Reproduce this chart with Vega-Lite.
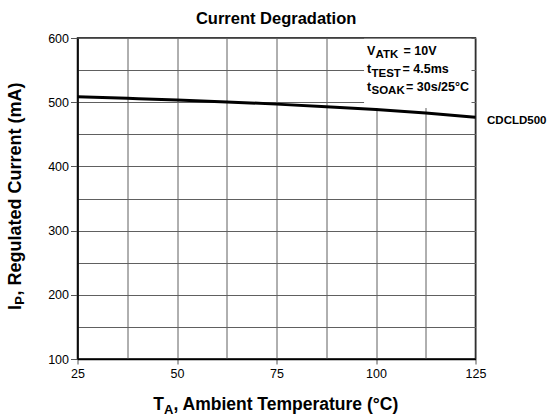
{
  "$schema": "https://vega.github.io/schema/vega-lite/v6.json",
  "autosize": "none",
  "width": 398,
  "height": 321,
  "padding": {"left": 77.5, "top": 38, "right": 71.5, "bottom": 58},
  "background": "white",
  "config": {
    "view": {"stroke": "#000", "strokeWidth": 1.5},
    "font": "Liberation Sans"
  },
  "encoding": {
    "x": {"type": "quantitative", "scale": {"domain": [25, 125], "nice": false, "zero": false},
      "axis": {"values": [25, 37.5, 50, 62.5, 75, 87.5, 100, 112.5, 125], "title": null, "grid": true,
        "gridColor": "#606060", "gridWidth": 1, "domainColor": "#000", "domainWidth": 1.5,
        "tickColor": "#555", "tickSize": 5,
        "tickOpacity": {"condition": {"test": "datum.value % 25 === 0", "value": 1}, "value": 0},
        "labelExpr": "datum.value % 25 === 0 ? datum.label : ''",
        "labelFont": "Liberation Sans", "labelFontSize": 12.5, "labelColor": "#000", "labelPadding": 3,
        "labelFlush": false, "labelOverlap": false}},
    "y": {"type": "quantitative", "scale": {"domain": [100, 600], "nice": false, "zero": false},
      "axis": {"values": [100, 150, 200, 250, 300, 350, 400, 450, 500, 550, 600],
        "title": null, "grid": true, "gridColor": "#606060", "gridWidth": 1, "domainColor": "#000", "domainWidth": 1.5,
        "tickColor": "#555", "tickSize": 7,
        "tickOpacity": {"condition": {"test": "datum.value % 100 === 0", "value": 1}, "value": 0},
        "labelExpr": "datum.value % 100 === 0 ? datum.label : ''",
        "labelFont": "Liberation Sans", "labelFontSize": 12.5, "labelColor": "#000", "labelPadding": 2,
        "labelFlush": false, "labelOverlap": false}}
  },
  "layer": [
    {
      "data": {"values": [{"x": 97, "x2": 124, "y": 599, "y2": 491}]},
      "mark": {"type": "rect", "fill": "white"},
      "encoding": {"x": {"field": "x", "type": "quantitative"}, "x2": {"field": "x2"}, "y": {"field": "y", "type": "quantitative"}, "y2": {"field": "y2"}}
    },
    {
      "data": {"values": [
        {"T": 25, "I": 508.5}, {"T": 37.5, "I": 506}, {"T": 50, "I": 503.5}, {"T": 62.5, "I": 500.5},
        {"T": 75, "I": 497}, {"T": 87.5, "I": 493}, {"T": 100, "I": 488.5}, {"T": 112.5, "I": 483}, {"T": 125, "I": 476.5}
      ]},
      "mark": {"type": "line", "color": "#000", "strokeWidth": 3, "interpolate": "monotone"},
      "encoding": {"x": {"field": "T", "type": "quantitative"}, "y": {"field": "I", "type": "quantitative"}}
    },
    {
      "data": {"values": [
        {"x": 97.74, "y": 573.5, "t": "V"},
        {"x": 106.9, "y": 573.5, "t": "= 10V"},
        {"x": 97.74, "y": 545.0, "t": "t"},
        {"x": 106.66, "y": 545.0, "t": "= 4.5ms"},
        {"x": 97.74, "y": 517.4, "t": "t"},
        {"x": 107.54, "y": 517.4, "t": "= 30s/25°C"}
      ]},
      "mark": {"type": "text", "font": "Liberation Sans", "fontWeight": "bold", "fontSize": 12.5, "align": "left", "baseline": "alphabetic", "color": "#000"},
      "encoding": {"x": {"field": "x", "type": "quantitative"}, "y": {"field": "y", "type": "quantitative"}, "text": {"field": "t"}}
    },
    {
      "data": {"values": [
        {"x": 99.87, "y": 568.1, "t": "ATK"},
        {"x": 98.87, "y": 539.7, "t": "TEST"},
        {"x": 98.87, "y": 512.0, "t": "SOAK"}
      ]},
      "mark": {"type": "text", "font": "Liberation Sans", "fontWeight": "bold", "fontSize": 11.5, "align": "left", "baseline": "alphabetic", "color": "#000"},
      "encoding": {"x": {"field": "x", "type": "quantitative"}, "y": {"field": "y", "type": "quantitative"}, "text": {"field": "t"}}
    },
    {
      "data": {"values": [{"x": 127.9, "y": 466, "t": "CDCLD500"}]},
      "mark": {"type": "text", "font": "Liberation Sans", "fontWeight": "bold", "fontSize": 11.5, "align": "left", "baseline": "alphabetic", "color": "#000"},
      "encoding": {"x": {"field": "x", "type": "quantitative"}, "y": {"field": "y", "type": "quantitative"}, "text": {"field": "t"}}
    },
    {
      "data": {"values": [{"x": 74.9, "y": 621.8, "t": "Current Degradation"}]},
      "mark": {"type": "text", "font": "Liberation Sans", "fontWeight": "bold", "fontSize": 16.5, "align": "center", "baseline": "alphabetic", "color": "#000"},
      "encoding": {"x": {"field": "x", "type": "quantitative"}, "y": {"field": "y", "type": "quantitative"}, "text": {"field": "t"}}
    },
    {
      "data": {"values": [
        {"x": 44.05, "y": 20.5, "t": "T"},
        {"x": 49.1, "y": 20.5, "t": ", Ambient Temperature (°C)"}
      ]},
      "mark": {"type": "text", "font": "Liberation Sans", "fontWeight": "bold", "fontSize": 17.5, "align": "left", "baseline": "alphabetic", "color": "#000"},
      "encoding": {"x": {"field": "x", "type": "quantitative"}, "y": {"field": "y", "type": "quantitative"}, "text": {"field": "t"}}
    },
    {
      "data": {"values": [{"x": 46.74, "y": 14.6, "t": "A"}]},
      "mark": {"type": "text", "font": "Liberation Sans", "fontWeight": "bold", "fontSize": 13, "align": "left", "baseline": "alphabetic", "color": "#000"},
      "encoding": {"x": {"field": "x", "type": "quantitative"}, "y": {"field": "y", "type": "quantitative"}, "text": {"field": "t"}}
    },
    {
      "data": {"values": [
        {"x": 10.8, "y": 176.3, "t": "I"},
        {"x": 10.8, "y": 199.0, "t": ", Regulated Current (mA)"}
      ]},
      "mark": {"type": "text", "font": "Liberation Sans", "fontWeight": "bold", "fontSize": 18, "align": "left", "baseline": "alphabetic", "angle": 270, "color": "#000"},
      "encoding": {"x": {"field": "x", "type": "quantitative"}, "y": {"field": "y", "type": "quantitative"}, "text": {"field": "t"}}
    },
    {
      "data": {"values": [{"x": 11.56, "y": 184.4, "t": "P"}]},
      "mark": {"type": "text", "font": "Liberation Sans", "fontWeight": "bold", "fontSize": 13, "align": "left", "baseline": "alphabetic", "angle": 270, "color": "#000"},
      "encoding": {"x": {"field": "x", "type": "quantitative"}, "y": {"field": "y", "type": "quantitative"}, "text": {"field": "t"}}
    }
  ]
}
